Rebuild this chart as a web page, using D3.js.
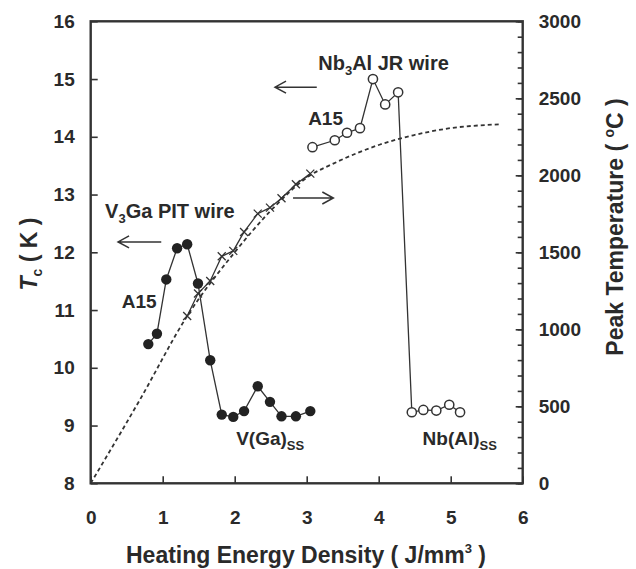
<!DOCTYPE html>
<html>
<head>
<meta charset="utf-8">
<script src="https://d3js.org/d3.v7.min.js"></script>
<title>Tc and peak temperature vs heating energy density</title>
<style>
body { margin: 0; background: #fff; }
svg { font-family: "Liberation Sans", Arial, sans-serif; }
.tick text { font-size: 19px; font-weight: bold; fill: #2a2a2a; }
.tick line { stroke: #333; stroke-width: 1.6; }
.label { font-size: 20px; font-weight: bold; fill: #2a2a2a; }
.title { font-size: 23px; font-weight: bold; fill: #2a2a2a; }
</style>
</head>
<body>
<svg id="root" width="636" height="569"></svg>
<script>
// V3Ga PIT wire, filled circles (left axis)
let vgaEnergy = [0.80, 0.92, 1.05, 1.20, 1.34, 1.49, 1.66, 1.82, 1.98, 2.13, 2.32, 2.49, 2.65, 2.85, 3.05]
let vgaTc     = [10.41, 10.59, 11.53, 12.07, 12.14, 11.46, 10.13, 9.19, 9.15, 9.25, 9.68, 9.41, 9.16, 9.16, 9.25]

// Nb3Al JR wire, open circles (left axis)
let nbEnergy = [3.08, 3.39, 3.56, 3.74, 3.92, 4.09, 4.27, 4.46, 4.62, 4.80, 4.98, 5.13]
let nbTc     = [13.82, 13.94, 14.07, 14.15, 15.00, 14.56, 14.77, 9.23, 9.27, 9.26, 9.36, 9.23]

// peak temperature, crosses (right axis)
let peakEnergy = [1.34, 1.49, 1.66, 1.82, 1.98, 2.13, 2.32, 2.49, 2.65, 2.85, 3.05]
let peakTemp   = [1086, 1232, 1314, 1474, 1509, 1632, 1751, 1790, 1851, 1942, 2011]

// dashed trend of peak temperature (right axis)
let trendEnergy = [0, 0.68, 1.34, 2.0, 2.5, 3.05, 3.37, 4.02, 4.48, 4.95, 5.68]
let trendTemp   = [0, 540, 1086, 1500, 1770, 2000, 2076, 2200, 2260, 2303, 2331]

let xTicks = [0, 1, 2, 3, 4, 5, 6]
let tcTicks = [8, 9, 10, 11, 12, 13, 14, 15, 16]
let tempTicks = [0, 500, 1000, 1500, 2000, 2500, 3000]

let svg = d3.select('#root')
let ink = '#333'

let x = d3.scaleLinear().domain([0, 6]).range([90.7, 522.7])
let yL = d3.scaleLinear().domain([8, 16]).range([483.3, 21.3])
let yR = d3.scaleLinear().domain([0, 3000]).range([483.3, 21.3])

// axes, ticks pointing inward
svg.append('g').attr('transform', 'translate(0,' + yL.range()[0] + ')')
	.call(d3.axisBottom(x).tickValues(xTicks).tickFormat(d3.format('d')).tickSize(-7).tickPadding(27))

svg.append('g').attr('transform', 'translate(' + x.range()[0] + ',0)')
	.call(d3.axisLeft(yL).tickValues(tcTicks).tickFormat(d3.format('d')).tickSize(-7).tickPadding(16))

svg.append('g').attr('transform', 'translate(' + x.range()[1] + ',0)')
	.call(d3.axisRight(yR).tickValues(d3.range(0, 3001, 100)).tickSize(-5).tickFormat(''))
svg.append('g').attr('transform', 'translate(' + x.range()[1] + ',0)')
	.call(d3.axisRight(yR).tickValues(tempTicks).tickFormat(d3.format('d')).tickSize(-7).tickPadding(16))

svg.selectAll('.domain').remove()

svg.append('rect')
	.attr('x', x.range()[0]).attr('y', yL.range()[1])
	.attr('width', x.range()[1] - x.range()[0]).attr('height', yL.range()[0] - yL.range()[1])
	.attr('fill', 'none').attr('stroke', ink).attr('stroke-width', 2.4)

// dashed trend
let trend = trendEnergy.map((e, i) => [e, trendTemp[i]])
svg.append('path')
	.attr('d', d3.line().x(d => x(d[0])).y(d => yR(d[1])).curve(d3.curveMonotoneX)(trend))
	.attr('fill', 'none').attr('stroke', ink).attr('stroke-width', 1.8).attr('stroke-dasharray', '4,3')

// peak temperature with crosses
let peak = peakEnergy.map((e, i) => [e, peakTemp[i]])
svg.append('path')
	.attr('d', d3.line().x(d => x(d[0])).y(d => yR(d[1]))(peak))
	.attr('fill', 'none').attr('stroke', ink).attr('stroke-width', 1.3)
svg.selectAll('.cross').data(peak).enter().append('path')
	.attr('class', 'cross')
	.attr('transform', d => 'translate(' + x(d[0]) + ',' + yR(d[1]) + ')')
	.attr('d', 'M-4,-4L4,4M-4,4L4,-4')
	.attr('stroke', ink).attr('stroke-width', 1.3)

// V3Ga
let vga = vgaEnergy.map((e, i) => [e, vgaTc[i]])
svg.append('path')
	.attr('d', d3.line().x(d => x(d[0])).y(d => yL(d[1]))(vga))
	.attr('fill', 'none').attr('stroke', ink).attr('stroke-width', 1.3)
svg.selectAll('.vga').data(vga).enter().append('circle')
	.attr('class', 'vga')
	.attr('cx', d => x(d[0])).attr('cy', d => yL(d[1])).attr('r', 5.2)
	.attr('fill', '#222')

// Nb3Al
let nb = nbEnergy.map((e, i) => [e, nbTc[i]])
svg.append('path')
	.attr('d', d3.line().x(d => x(d[0])).y(d => yL(d[1]))(nb))
	.attr('fill', 'none').attr('stroke', ink).attr('stroke-width', 1.3)
svg.selectAll('.nb').data(nb).enter().append('circle')
	.attr('class', 'nb')
	.attr('cx', d => x(d[0])).attr('cy', d => yL(d[1])).attr('r', 4.6)
	.attr('fill', '#fff').attr('stroke', ink).attr('stroke-width', 1.5)

// arrows: [from energy, to energy, Tc]
let arrows = [[3.14, 2.56, 14.86], [0.98, 0.38, 12.18], [2.81, 3.37, 12.94]]
svg.selectAll('.arrow').data(arrows).enter().append('path')
	.attr('class', 'arrow')
	.attr('d', d => {
		let x0 = x(d[0]), x1 = x(d[1]), y = yL(d[2]), s = x1 > x0 ? -1 : 1
		return 'M' + x0 + ',' + y + 'H' + x1 + 'M' + (x1 + s * 11) + ',' + (y - 6) + 'L' + x1 + ',' + y + 'L' + (x1 + s * 11) + ',' + (y + 6)
	})
	.attr('fill', 'none').attr('stroke', ink).attr('stroke-width', 1.5)

// annotations: [main, subscript, rest, energy, Tc, font size]
let notes = [
	['Nb', '3', 'Al JR wire', 3.16, 15.16, 20],
	['A15', '', '', 3.02, 14.20, 19],
	['V', '3', 'Ga PIT wire', 0.20, 12.59, 20],
	['A15', '', '', 0.43, 11.04, 19],
	['V(Ga)', 'SS', '', 2.02, 8.66, 19],
	['Nb(Al)', 'SS', '', 4.61, 8.66, 19]
]
notes.forEach(n => {
	let t = svg.append('text').attr('class', 'label').attr('x', x(n[3])).attr('y', yL(n[4]))
		.style('font-size', n[5] + 'px')
	t.append('tspan').text(n[0])
	if (n[1]) t.append('tspan').attr('dy', 5).style('font-size', '13px').text(n[1])
	if (n[2]) t.append('tspan').attr('dy', -5).text(n[2])
})

// axis titles
let xt = svg.append('text').attr('class', 'title').attr('x', 306).attr('y', 563)
	.attr('text-anchor', 'middle')
xt.append('tspan').text('Heating Energy Density ( J/mm')
xt.append('tspan').attr('dy', -10).style('font-size', '13px').text('3')
xt.append('tspan').attr('dy', 10).text(' )')

let lt = svg.append('text').attr('class', 'title')
	.attr('transform', 'translate(37,254) rotate(-90)').attr('text-anchor', 'middle')
lt.append('tspan').style('font-style', 'italic').text('T')
lt.append('tspan').attr('dy', 5).style('font-size', '14px').text('c')
lt.append('tspan').attr('dy', -5).text(' ( K )')

let rt = svg.append('text').attr('class', 'title')
	.attr('transform', 'translate(623,227) rotate(-90)').attr('text-anchor', 'middle')
rt.append('tspan').text('Peak Temperature ( ')
rt.append('tspan').attr('dy', -9).style('font-size', '14px').text('o')
rt.append('tspan').attr('dy', 9).text('C )')
</script>
</body>
</html>
